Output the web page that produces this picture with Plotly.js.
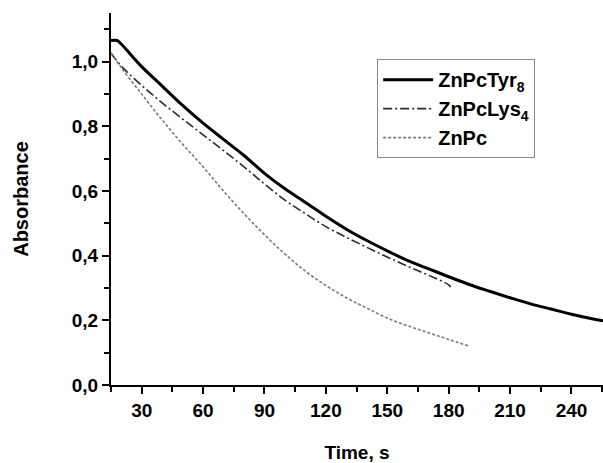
<!DOCTYPE html>
<html>
<head>
<meta charset="utf-8">
<script src="https://cdn.plot.ly/plotly-3.0.1.min.js"></script>
<style>html,body{margin:0;padding:0;background:#fff;}#chart{width:603px;height:463px;}</style>
</head>
<body>
<div id="chart"></div>
<script>
// Time (s)
var tyrTime = [15, 18, 20, 30, 40, 50, 60, 70, 80, 90, 100, 110, 120, 130, 140, 150, 160, 170, 180, 190, 200, 210, 220, 230, 240, 250, 256];
var tyrAbs  = [1.066, 1.066, 1.055, 0.985, 0.925, 0.865, 0.81, 0.76, 0.71, 0.655, 0.607, 0.565, 0.522, 0.482, 0.447, 0.415, 0.385, 0.36, 0.335, 0.311, 0.29, 0.27, 0.251, 0.235, 0.219, 0.205, 0.198];

var lysTime = [15, 20, 30, 40, 50, 60, 70, 80, 90, 100, 110, 120, 130, 140, 150, 160, 170, 180, 181];
var lysAbs  = [1.027, 0.987, 0.927, 0.873, 0.823, 0.774, 0.725, 0.675, 0.622, 0.572, 0.53, 0.49, 0.457, 0.426, 0.396, 0.367, 0.34, 0.31, 0.303];

var pcTime = [15, 20, 30, 40, 50, 60, 70, 80, 90, 100, 110, 120, 130, 140, 150, 160, 170, 180, 190];
var pcAbs  = [1.027, 0.982, 0.9, 0.82, 0.745, 0.675, 0.6, 0.53, 0.465, 0.405, 0.352, 0.308, 0.27, 0.238, 0.207, 0.183, 0.162, 0.141, 0.12];

var seriesNames = ['ZnPcTyr<sub>8</sub>', 'ZnPcLys<sub>4</sub>', 'ZnPc'];
var xTitle = 'Time, s';
var yTitle = 'Absorbance';

var F = 'Liberation Sans, Arial, sans-serif';

var traces = [
  {x: tyrTime, y: tyrAbs, name: seriesNames[0], mode: 'lines',
   line: {color: '#000000', width: 3, shape: 'spline'}},
  {x: lysTime, y: lysAbs, name: seriesNames[1], mode: 'lines',
   line: {color: '#2a2a2a', width: 1.6, dash: '9px,3px,2px,3px', shape: 'spline'}},
  {x: pcTime, y: pcAbs, name: seriesNames[2], mode: 'lines',
   line: {color: '#7a7a7a', width: 1.6, dash: '3px,2px', shape: 'spline'}}
];

var layout = {
  width: 603, height: 463,
  margin: {l: 111, r: 0, t: 13, b: 78},
  paper_bgcolor: '#ffffff', plot_bgcolor: '#ffffff',
  separators: ', ',
  showlegend: true,
  legend: {x: 0.541, y: 0.876, xanchor: 'left', yanchor: 'top',
           itemwidth: 50, tracegroupgap: 0,
           bordercolor: '#888888', borderwidth: 1, bgcolor: '#ffffff',
           font: {family: F, size: 20, color: '#000', weight: 'bold'}},
  xaxis: {
    range: [15, 255.4], tick0: 0, dtick: 30,
    showgrid: false, zeroline: false, automargin: true,
    showline: true, linecolor: '#000', linewidth: 2,
    ticks: 'outside', ticklen: 7, tickwidth: 2, tickcolor: '#000',
    minor: {dtick: 15, tick0: 0, ticks: 'outside', ticklen: 5, tickwidth: 2, tickcolor: '#000', showgrid: false},
    tickfont: {family: F, size: 19, color: '#000', weight: 'bold'},
    title: {text: xTitle, font: {family: F, size: 19, color: '#000', weight: 'bold'}, standoff: 26}
  },
  yaxis: {
    range: [0, 1.151], tick0: 0, dtick: 0.2, tickformat: '.1f',
    showgrid: false, zeroline: false, automargin: true,
    showline: true, linecolor: '#000', linewidth: 2,
    ticks: 'outside', ticklen: 7, tickwidth: 2, tickcolor: '#000',
    minor: {dtick: 0.1, tick0: 0, ticks: 'outside', ticklen: 5, tickwidth: 2, tickcolor: '#000', showgrid: false},
    tickfont: {family: F, size: 19, color: '#000', weight: 'bold'},
    title: {text: yTitle, font: {family: F, size: 20, color: '#000', weight: 'bold'}, standoff: 38}
  }
};

Plotly.newPlot('chart', traces, layout, {displayModeBar: false, staticPlot: true});
</script>
</body>
</html>
